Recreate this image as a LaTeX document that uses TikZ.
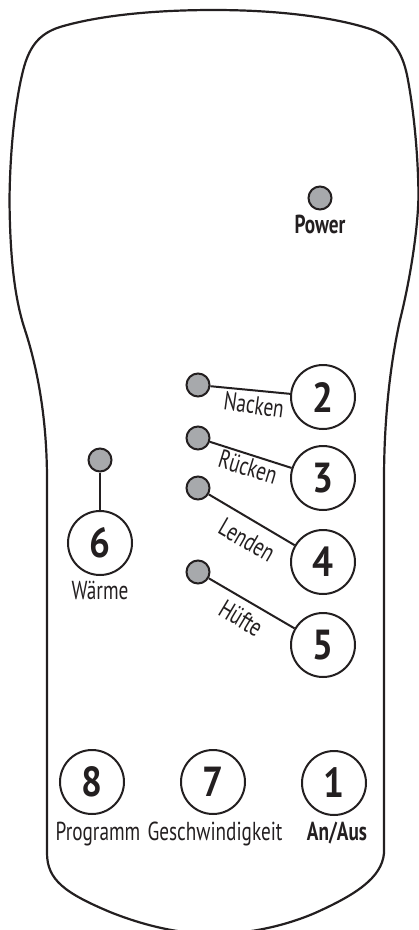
\documentclass[tikz,border=0pt]{standalone}
\usepackage{fontspec}
\setmainfont{PT Sans}[FakeStretch=0.74]
\newfontfamily\digitfont{PT Sans}[FakeStretch=0.88]
\definecolor{ink}{HTML}{231F20}
\definecolor{ledgray}{HTML}{A7A9AC}
\begin{document}
\begin{tikzpicture}[x=1pt,y=-1pt,
  outl/.style={line width=2.2pt, draw=ink, line join=round},
  led/.style={circle, draw=ink, fill=ledgray, line width=2pt, minimum size=23pt, inner sep=0pt},
  btn/.style={circle, draw=ink, line width=2pt, minimum size=64pt, inner sep=0pt, font=\digitfont\fontsize{42}{42}\selectfont\bfseries, text=ink},
  lbl/.style={font=\fontsize{26}{26}\selectfont, text=ink, inner sep=0pt},
  blbl/.style={font=\fontsize{26}{26}\selectfont\bfseries, text=ink, inner sep=0pt},
  conn/.style={line width=2pt, draw=ink}]
\useasboundingbox (0,0) rectangle (419,930);
\clip (0,0) rectangle (419,930);
% housing outline
\draw[outl] (214,10)
  .. controls (290,10) and (345,20) .. (373,30)
  .. controls (393,38) and (402,52) .. (407,75)
  .. controls (413,105) and (418,150) .. (418.5,195)
  .. controls (418,230) and (410,280) .. (400,320)
  .. controls (390,365) and (384,420) .. (384,480)
  -- (384,853)
  .. controls (382,878) and (355,895) .. (315,913)
  .. controls (280,928) and (243,934) .. (214,934)
  .. controls (185,934) and (150,928) .. (110,912)
  .. controls (65,893) and (47,880) .. (47,853)
  -- (47,480)
  .. controls (47,420) and (38,370) .. (25,330)
  .. controls (15,300) and (10,260) .. (9.5,200)
  .. controls (10,150) and (15,105) .. (22,75)
  .. controls (28,48) and (38,34) .. (60,27)
  .. controls (90,18) and (140,10) .. (214,10) -- cycle;
% power
\node[led] (ledp) at (320,198) {};
\node[blbl, anchor=base] (power) at (320,233) {Power};
% zone LEDs and buttons
\node[led] (l2) at (198,385) {};
\node[led] (l3) at (198,438) {};
\node[led] (l4) at (198,488) {};
\node[led] (l5) at (198,572) {};
\node[btn] (b2) at (323,397) {2};
\node[btn] (b3) at (323,478) {3};
\node[btn] (b4) at (323,562) {4};
\node[btn] (b5) at (323,645) {5};
\draw[conn] (l2) -- (b2);
\draw[conn] (l3) -- (b3);
\draw[conn] (l4) -- (b4);
\draw[conn] (l5) -- (b5);
\node[lbl, rotate=-8] (tn) at (254,405) {Nacken};
\node[lbl, rotate=-17] (tr) at (248,467) {Rücken};
\node[lbl, rotate=-30] (tl) at (247,540) {Lenden};
\node[lbl, rotate=-31] (th) at (241,618) {Hüfte};
% heat
\node[led] (l6) at (100,460) {};
\node[btn] (b6) at (100,543) {6};
\draw[conn] (l6) -- (b6);
\node[lbl, anchor=base] (tw) at (100,599) {Wärme};
% bottom buttons
\node[btn] (b8) at (92,782) {8};
\node[btn] (b7) at (213,782) {7};
\node[btn] (b1) at (334,783) {1};
\node[lbl, anchor=base] (tp) at (98,840) {Programm};
\node[lbl, anchor=base] (tg) at (215,840) {Geschwindigkeit};
\node[blbl, anchor=base] (ta) at (337,840) {An/Aus};
\end{tikzpicture}
\end{document}
